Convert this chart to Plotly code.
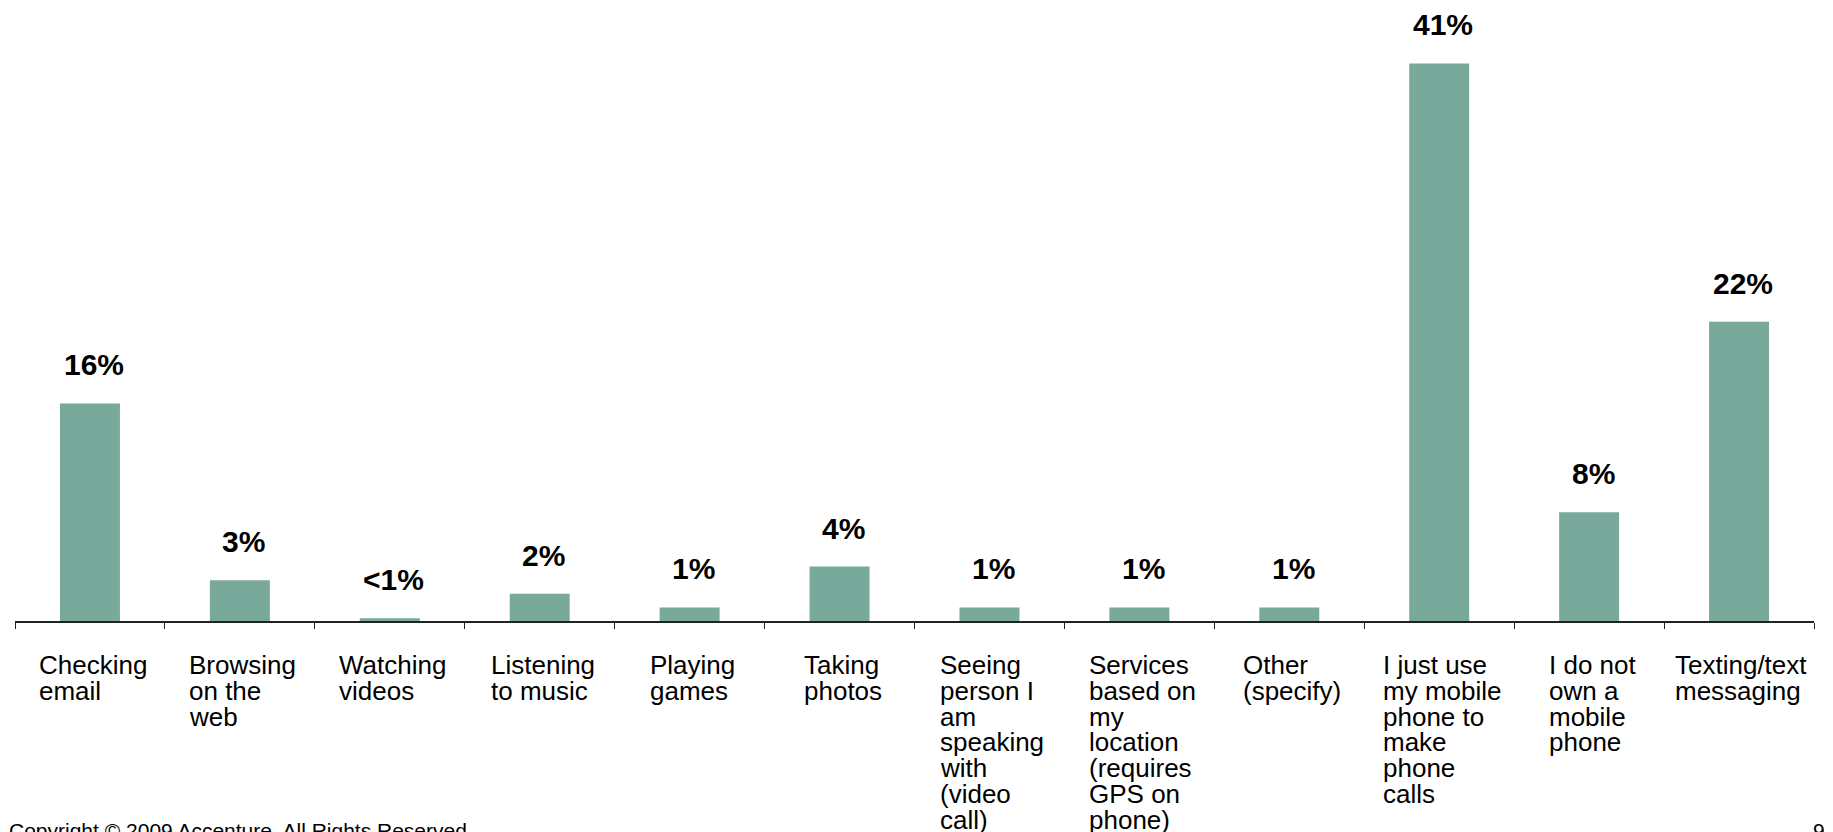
import plotly.graph_objects as go

# Survey results: main use of the mobile phone (share of respondents, %)
categories = [
    "Checking\nemail",
    "Browsing\non the\nweb",
    "Watching\nvideos",
    "Listening\nto music",
    "Playing\ngames",
    "Taking\nphotos",
    "Seeing\nperson I\nam\nspeaking\nwith\n(video\ncall)",
    "Services\nbased on\nmy\nlocation\n(requires\nGPS on\nphone)",
    "Other\n(specify)",
    "I just use\nmy mobile\nphone to\nmake\nphone\ncalls",
    "I do not\nown a\nmobile\nphone",
    "Texting/text\nmessaging",
]
values = [16, 3, 0.2, 2, 1, 4, 1, 1, 1, 41, 8, 22]

footer_left = "Copyright © 2009 Accenture. All Rights Reserved."
footer_right = "9"

BAR_COLOR = "#78A99A"
FONT = "Liberation Sans, Arial, sans-serif"
CAT_SIZE = 26
LABEL_SIZE = 30
LINE_PITCH = 25.8

# Arial advance widths (1/1000 em) used to centre the left-aligned label blocks
ARIAL_W = {
    " ": 278, "(": 333, ")": 333, "/": 278,
    "a": 556, "b": 556, "c": 500, "d": 556, "e": 556, "f": 278, "g": 556,
    "h": 556, "i": 222, "j": 222, "k": 500, "l": 222, "m": 833, "n": 556,
    "o": 556, "p": 556, "q": 556, "r": 333, "s": 500, "t": 278, "u": 556,
    "v": 500, "w": 722, "x": 500, "y": 500, "z": 500,
    "B": 667, "C": 722, "G": 778, "I": 278, "L": 556, "O": 778, "P": 667,
    "S": 667, "T": 611, "W": 944,
}


def text_width(s, size):
    return sum(ARIAL_W.get(ch, 556) for ch in s) * size / 1000.0


names = [c.replace("\n", " ") for c in categories]
labels = ["<1%" if v < 1 else f"{v:g}%" for v in values]

fig = go.Figure(
    go.Bar(
        x=names,
        y=values,
        width=0.4,
        marker=dict(color=BAR_COLOR, line=dict(width=0)),
        hoverinfo="skip",
    )
)

annotations = []

# value labels above the bars
for name, v, lab in zip(names, values, labels):
    annotations.append(dict(
        x=name, y=v, xref="x", yref="y",
        text=f"<b>{lab}</b>", showarrow=False,
        xanchor="center", yanchor="bottom",
        xshift=4, yshift=20,
        font=dict(family=FONT, size=LABEL_SIZE, color="#000000"),
    ))

# category labels: left-aligned lines, block centred under each category
for name, cat in zip(names, categories):
    lines = cat.split("\n")
    block_w = max(text_width(l, CAT_SIZE) for l in lines)
    for i, line in enumerate(lines):
        annotations.append(dict(
            x=name, y=0, xref="x", yref="paper",
            text=line, showarrow=False,
            xanchor="left", yanchor="top", align="left",
            borderpad=0,
            xshift=-block_w / 2 + 2, yshift=-28 - LINE_PITCH * i,
            font=dict(family=FONT, size=CAT_SIZE, color="#000000"),
        ))

# page footer
annotations.append(dict(
    x=0, y=0, xref="paper", yref="paper", text=footer_left, showarrow=False,
    xanchor="left", yanchor="top", xshift=-8, yshift=-196,
    font=dict(family=FONT, size=21, color="#000000"),
))
annotations.append(dict(
    x=1, y=0, xref="paper", yref="paper", text=footer_right, showarrow=False,
    xanchor="right", yanchor="top", xshift=13, yshift=-196,
    font=dict(family=FONT, size=21, color="#000000"),
))

fig.update_layout(
    width=1833,
    height=832,
    margin=dict(l=15, r=19, t=9, b=211, pad=0),
    paper_bgcolor="white",
    plot_bgcolor="white",
    showlegend=False,
    bargap=0.6,
    annotations=annotations,
    xaxis=dict(
        type="category",
        range=[-0.5, len(names) - 0.5],
        showline=True, linecolor="#222222", linewidth=1.5,
        ticks="outside", tickson="boundaries", ticklen=6,
        tickcolor="#222222", tickwidth=1.2,
        showticklabels=False, showgrid=False, zeroline=False,
        fixedrange=True,
    ),
    yaxis=dict(
        range=[0, 45], visible=False, showgrid=False, zeroline=False,
        fixedrange=True,
    ),
)

fig.write_html("out.html", config={"displayModeBar": False})
